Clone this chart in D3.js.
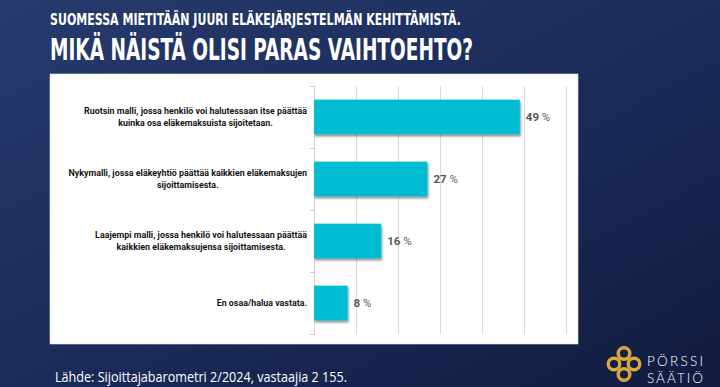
<!DOCTYPE html>
<html>
<head>
<meta charset="utf-8">
<script src="https://cdn.jsdelivr.net/npm/d3@7"></script>
<style>
  html, body { margin: 0; padding: 0; background: #18244d; }
  svg { display: block; }
</style>
</head>
<body>
<svg id="chart"></svg>
<script>
// data
var categories = [
    ["Ruotsin malli, jossa henkilö voi halutessaan itse päättää", "kuinka osa eläkemaksuista sijoitetaan."],
    ["Nykymalli, jossa eläkeyhtiö päättää kaikkien eläkemaksujen", "sijoittamisesta."],
    ["Laajempi malli, jossa henkilö voi halutessaan päättää", "kaikkien eläkemaksujensa sijoittamisesta."],
    ["En osaa/halua vastata."]
];
var values = [49, 27, 16, 8];
var xTicks = [0, 10, 20, 30, 40, 50, 60];
var titleLine1 = "SUOMESSA MIETITÄÄN JUURI ELÄKEJÄRJESTELMÄN KEHITTÄMISTÄ.";
var titleLine2 = "MIKÄ NÄISTÄ OLISI PARAS VAIHTOEHTO?";
var sourceText = "Lähde: Sijoittajabarometri 2/2024, vastaajia 2 155.";

const W = 720, H = 387;

let svg = d3.select("#chart").attr("width", W).attr("height", H);
let defs = svg.append("defs");

// background gradient
let bg = defs.append("linearGradient").attr("id", "bg")
    .attr("x1", "0").attr("y1", "0").attr("x2", "1").attr("y2", "1");
bg.append("stop").attr("offset", "0").attr("stop-color", "#263b6d");
bg.append("stop").attr("offset", "0.55").attr("stop-color", "#1a2a58");
bg.append("stop").attr("offset", "1").attr("stop-color", "#121b3e");

let shadow = defs.append("filter").attr("id", "shadow")
    .attr("x", "-5%").attr("y", "-20%").attr("width", "115%").attr("height", "160%");
shadow.append("feDropShadow").attr("dx", 1).attr("dy", 2)
    .attr("stdDeviation", 1.2).attr("flood-color", "#000").attr("flood-opacity", 0.45);

svg.append("rect").attr("width", W).attr("height", H).attr("fill", "url(#bg)");

// titles
svg.append("text")
    .attr("x", 50).attr("y", 24.5)
    .attr("fill", "#fff")
    .style("font-family", "'DejaVu Sans Condensed', 'DejaVu Sans'")
    .style("font-weight", "bold")
    .style("font-size", "16.5px")
    .attr("textLength", 411).attr("lengthAdjust", "spacingAndGlyphs")
    .text(titleLine1);

svg.append("text")
    .attr("x", 50).attr("y", 60)
    .attr("fill", "#fff")
    .style("font-family", "'DejaVu Sans Condensed', 'DejaVu Sans'")
    .style("font-weight", "bold")
    .style("font-size", "31px")
    .attr("textLength", 423).attr("lengthAdjust", "spacingAndGlyphs")
    .text(titleLine2);

// white panel
svg.append("rect")
    .attr("x", 50).attr("y", 74).attr("width", 528).attr("height", 270)
    .attr("fill", "#fff").attr("stroke", "#e4e4e4").attr("stroke-width", 0.6);

// scales
let plotTop = 86, plotBottom = 334;
let x = d3.scaleLinear().domain([0, 60]).range([314, 566]);
let yIdx = d3.scaleLinear().domain([0, categories.length]).range([plotTop, plotBottom]);
let y = d3.scaleBand().domain(d3.range(categories.length))
    .range([plotTop, plotBottom]).paddingInner(0.44).paddingOuter(0.22);

// gridlines
let grid = svg.append("g")
    .attr("transform", "translate(0," + plotBottom + ")")
    .call(d3.axisBottom(x).tickValues(xTicks).tickFormat("").tickSize(-(plotBottom - plotTop)));
grid.select(".domain").remove();
grid.selectAll(".tick line").attr("stroke", "#d9d9d9").attr("stroke-width", 1);

// category axis
let yAxis = svg.append("g")
    .attr("transform", "translate(" + x(0) + ",0)")
    .call(d3.axisLeft(yIdx).tickValues(d3.range(categories.length + 1)).tickFormat("").tickSize(4).tickSizeOuter(0));
yAxis.select(".domain").attr("stroke", "#d0d0d0");
yAxis.selectAll(".tick line").attr("stroke", "#d0d0d0");

// bars
svg.selectAll(".bar")
    .data(values)
    .enter().append("rect")
    .attr("class", "bar")
    .attr("x", x(0))
    .attr("y", (d, i) => y(i))
    .attr("width", d => x(d) - x(0))
    .attr("height", y.bandwidth())
    .attr("fill", "#00bcd0")
    .attr("filter", "url(#shadow)");

// value labels
let vl = svg.selectAll(".val")
    .data(values)
    .enter().append("text")
    .attr("class", "val")
    .attr("x", d => x(d) + 6)
    .attr("y", (d, i) => y(i) + y.bandwidth() / 2 + 4)
    .attr("fill", "#595959")
    .style("font-family", "Roboto, 'Noto Sans', sans-serif")
    .style("font-size", "11.5px");
vl.append("tspan").style("font-weight", "bold").text(d => d + " ");
vl.append("tspan").text("%");

// category labels, lines centred inside a right-aligned block
let labelRight = 307, lineH = 12;
let lab = svg.selectAll(".cat")
    .data(categories)
    .enter().append("text")
    .attr("class", "cat")
    .attr("fill", "#151515")
    .attr("text-anchor", "middle")
    .style("font-family", "Roboto, 'Noto Sans', sans-serif")
    .style("font-weight", "bold")
    .style("font-size", "8.9px");

lab.each(function(lines, i) {
    let t = d3.select(this);
    let c = y(i) + y.bandwidth() / 2;
    lines.forEach((ln, k) => {
        t.append("tspan")
            .attr("y", c + (k - (lines.length - 1) / 2) * lineH + 3)
            .text(ln);
    });
    let maxW = 0;
    t.selectAll("tspan").each(function() {
        maxW = Math.max(maxW, this.getComputedTextLength());
    });
    t.selectAll("tspan").attr("x", labelRight - maxW / 2);
});

// source
svg.append("text")
    .attr("x", 55).attr("y", 382)
    .attr("fill", "#fff")
    .style("font-family", "'Open Sans', 'Noto Sans', sans-serif")
    .style("font-size", "14.5px")
    .attr("textLength", 292).attr("lengthAdjust", "spacingAndGlyphs")
    .text(sourceText);

// logo
let logo = svg.append("g").attr("transform", "translate(624,364)");
let gold = "#d9a93c";
[[0, -10.5], [10, 0], [0, 10.5], [-10, 0]].forEach(p => {
    logo.append("circle")
        .attr("cx", p[0]).attr("cy", p[1]).attr("r", 5.8)
        .attr("fill", "none").attr("stroke", gold).attr("stroke-width", 3.4);
});
svg.append("text")
    .attr("x", 647).attr("y", 365.5)
    .attr("fill", "#fff")
    .style("font-family", "Lato, 'Open Sans', sans-serif")
    .style("font-weight", 300)
    .style("font-size", "13.5px")
    .attr("textLength", 56).attr("lengthAdjust", "spacing")
    .text("PÖRSSI");
svg.append("text")
    .attr("x", 647).attr("y", 382.5)
    .attr("fill", "#fff")
    .style("font-family", "Lato, 'Open Sans', sans-serif")
    .style("font-weight", 300)
    .style("font-size", "13.5px")
    .attr("textLength", 56).attr("lengthAdjust", "spacing")
    .text("SÄÄTIÖ");
</script>
</body>
</html>
